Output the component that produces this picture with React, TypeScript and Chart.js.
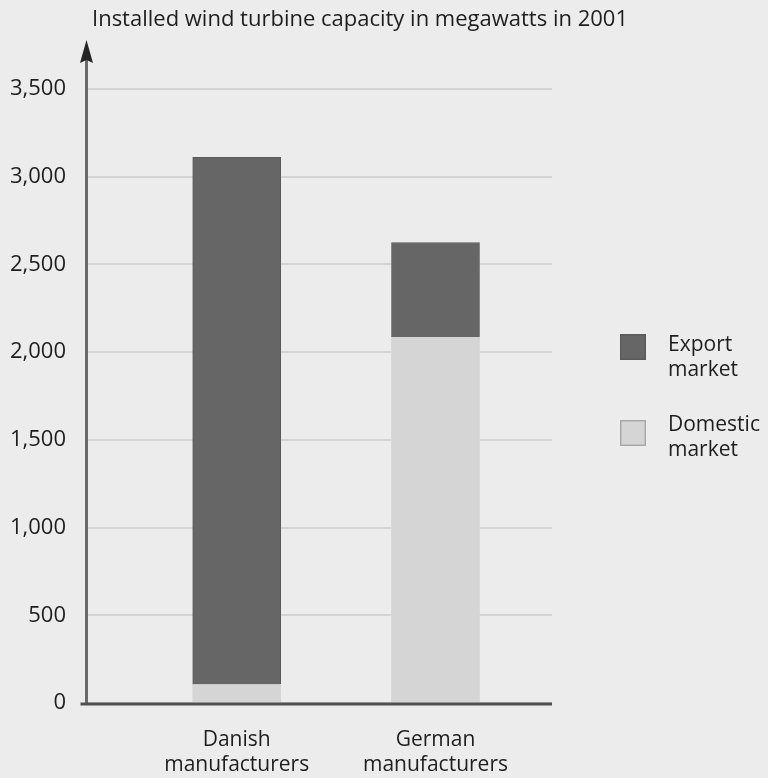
import React, { useEffect, useRef } from 'react';
import { Chart, registerables } from 'chart.js';

Chart.register(...registerables);

const TITLE = 'Installed wind turbine capacity in megawatts in 2001';
const categories: string[][] = [
  ['Danish', 'manufacturers'],
  ['German', 'manufacturers'],
];
const domesticValues = [105, 2085];
const exportValues = [3005, 540];
const domesticLabel = ['Domestic', 'market'];
const exportLabel = ['Export', 'market'];
const yTicks = [0, 500, 1000, 1500, 2000, 2500, 3000, 3500];

const FONT = '"Open Sans", "Noto Sans", sans-serif';
const TEXT = '#1e1e1e';
const BG = '#ececec';
const EXPORT_COLOR = '#666666';
const EXPORT_BORDER = '#5a5a5a';
const DOMESTIC_COLOR = '#d5d5d5';
const DOMESTIC_BORDER = '#a8a8a8';

export default function App() {
  const ref = useRef<HTMLCanvasElement>(null);

  useEffect(() => {
    const canvas = ref.current;
    if (!canvas) return;

    const bgPlugin = {
      id: 'bg',
      beforeDraw(chart: any) {
        const c = chart.ctx;
        c.save();
        c.fillStyle = BG;
        c.fillRect(0, 0, chart.width, chart.height);
        c.restore();
      },
    };

    const axesPlugin = {
      id: 'axes',
      afterDatasetsDraw(chart: any) {
        const { ctx, chartArea, scales } = chart;
        const y0 = scales.y.getPixelForValue(0);
        const x0 = chartArea.left + 0.5;
        const tipY = chartArea.top - 49;
        ctx.save();
        ctx.strokeStyle = '#6a6a6a';
        ctx.lineWidth = 3;
        ctx.beginPath();
        ctx.moveTo(x0, y0);
        ctx.lineTo(x0, tipY + 18);
        ctx.stroke();
        ctx.fillStyle = '#262626';
        ctx.beginPath();
        ctx.moveTo(x0, tipY);
        ctx.lineTo(x0 - 6.5, tipY + 23);
        ctx.lineTo(x0, tipY + 20);
        ctx.lineTo(x0 + 6.5, tipY + 23);
        ctx.closePath();
        ctx.fill();
        ctx.strokeStyle = '#505050';
        ctx.lineWidth = 3;
        ctx.beginPath();
        ctx.moveTo(x0 - 6, y0 + 1);
        ctx.lineTo(chartArea.right, y0 + 1);
        ctx.stroke();
        ctx.restore();
      },
    };

    const titlePlugin = {
      id: 'customTitle',
      afterDraw(chart: any) {
        const ctx = chart.ctx;
        ctx.save();
        ctx.fillStyle = TEXT;
        ctx.font = `22px ${FONT}`;
        ctx.textAlign = 'left';
        ctx.textBaseline = 'alphabetic';
        ctx.fillText(TITLE, 92, 26);
        ctx.restore();
      },
    };

    const legendPlugin = {
      id: 'customLegend',
      afterDraw(chart: any) {
        const { ctx, chartArea } = chart;
        const ds = chart.data.datasets;
        const items = [
          { ds: ds[1], boxTop: 334, textBase: 351 },
          { ds: ds[0], boxTop: 420, textBase: 431 },
        ];
        const boxX = chartArea.right + 68;
        ctx.save();
        items.forEach(({ ds: d, boxTop, textBase }) => {
          ctx.fillStyle = d.backgroundColor;
          ctx.fillRect(boxX, boxTop, 26, 26);
          ctx.strokeStyle = d.legendBorder;
          ctx.lineWidth = 1.5;
          ctx.strokeRect(boxX + 0.75, boxTop + 0.75, 24.5, 24.5);
          ctx.fillStyle = TEXT;
          ctx.font = `21px ${FONT}`;
          ctx.textAlign = 'left';
          ctx.textBaseline = 'alphabetic';
          (d.label as string[]).forEach((ln: string, j: number) => {
            ctx.fillText(ln, boxX + 48, textBase + j * 25);
          });
        });
        ctx.restore();
      },
    };

    const chart = new Chart(canvas, {
      type: 'bar',
      data: {
        datasets: [
          {
            label: domesticLabel as any,
            data: domesticValues.map((v, i) => ({ x: i + 1, y: v })) as any,
            backgroundColor: DOMESTIC_COLOR,
            borderColor: DOMESTIC_COLOR,
            borderWidth: 0,
            barThickness: 88,
            legendBorder: DOMESTIC_BORDER,
          } as any,
          {
            label: exportLabel as any,
            data: exportValues.map((v, i) => ({ x: i + 1, y: v })) as any,
            backgroundColor: EXPORT_COLOR,
            borderColor: EXPORT_BORDER,
            borderWidth: 1,
            barThickness: 88,
            legendBorder: EXPORT_BORDER,
          } as any,
        ],
      },
      options: {
        animation: false,
        responsive: false,
        devicePixelRatio: 1,
        layout: { padding: { left: 0, right: 216, top: 89, bottom: 0 } },
        plugins: {
          legend: { display: false },
          title: { display: false },
          tooltip: { enabled: false },
        },
        scales: {
          x: {
            type: 'linear',
            stacked: true,
            offset: false,
            bounds: 'data',
            min: 0.242,
            max: 2.586,
            grid: { display: false, drawTicks: false, offset: false },
            border: { display: false },
            afterBuildTicks: (s: any) => {
              s.ticks = categories.map((_, i) => ({ value: i + 1 }));
            },
            afterFit: (s: any) => {
              s.height = 75;
            },
            ticks: {
              padding: 24,
              autoSkip: false,
              includeBounds: false,
              maxRotation: 0,
              minRotation: 0,
              color: TEXT,
              font: { family: FONT, size: 21, lineHeight: 1.2 },
              callback: (v: any) => categories[Math.round(Number(v)) - 1] ?? '',
            },
          },
          y: {
            stacked: true,
            min: 0,
            max: 3500,
            grid: { color: '#d4d4d4', lineWidth: 2, drawTicks: false },
            border: { display: false },
            afterBuildTicks: (s: any) => {
              s.ticks = yTicks.map((v) => ({ value: v }));
            },
            afterFit: (s: any) => {
              s.width = 86;
            },
            ticks: {
              padding: 20,
              color: TEXT,
              font: { family: FONT, size: 22 },
              callback: (v: any) => Number(v).toLocaleString('en-US'),
            },
          },
        },
      } as any,
      plugins: [bgPlugin, axesPlugin, titlePlugin, legendPlugin],
    });

    return () => chart.destroy();
  }, []);

  return (
    <div style={{ position: 'fixed', left: 0, top: 0, width: 768, height: 778, background: BG }}>
      <canvas ref={ref} width={768} height={778} style={{ display: 'block' }} />
    </div>
  );
}
